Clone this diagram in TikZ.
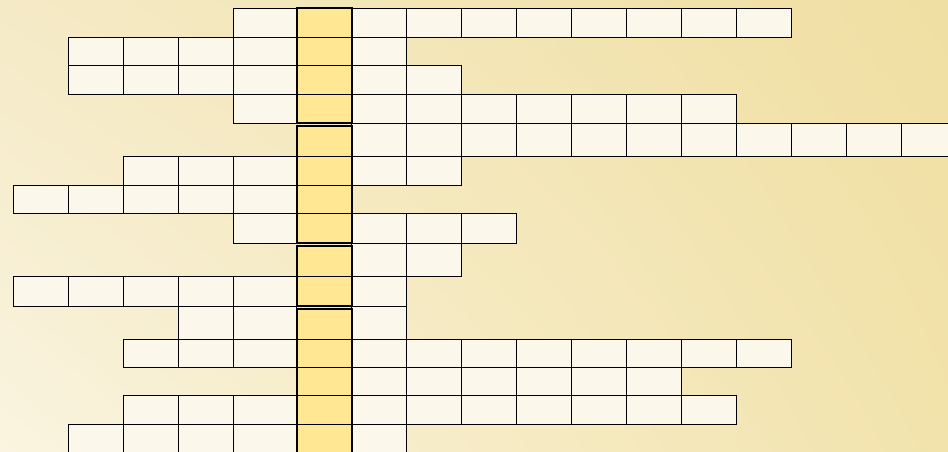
\documentclass[tikz,border=0pt]{standalone}
\usepackage{tikz}
\usetikzlibrary{shadings}
\definecolor{paper}{HTML}{FBF7EA}
\definecolor{gold}{HTML}{FFE794}
\definecolor{ink}{HTML}{000000}
\definecolor{bgA}{HTML}{F5EAC6}
\definecolor{bgB}{HTML}{F0DFA2}
\definecolor{bgC}{HTML}{FAF4E0}
\definecolor{bgD}{HTML}{F2E3AC}
\tikzset{
  cell/.style={
    draw=ink,
    fill=paper,
    line width=0.6pt,
    inner sep=0pt,
    outer sep=0pt,
    anchor=north west
  },
  keyword/.style={
    draw=ink,
    fill=gold,
    line width=1.1pt,
    inner sep=0pt,
    outer sep=0pt,
    anchor=north west,
    minimum width=55*0.02cm
  },
  rule/.style={
    draw=ink,
    line width=0.6pt
  }
}
% one answer row: #1 name, #2 top, #3 bottom, #4 first column, #5 last column
\newcommand{\wordrow}[5]{%
  \foreach \c in {#4,...,#5} {
    \ifnum\c=6 \else
      \pgfmathsetmacro{\cx}{\c<=4 ? 13.3+55*(\c-1) : (\c==5 ? 233.3 : 296.7+55*(\c-6))}
      \pgfmathsetmacro{\cw}{\c==5 ? 63.4 : 55}
      \node[cell, minimum width=\cw*0.02cm, minimum height=(#3-#2)*0.02cm]
        (#1c\c) at (\cx,#2) {};
    \fi
  }
}

\begin{document}
\begin{tikzpicture}[x=0.02cm,y=-0.02cm]

  % --- Background ---
  \useasboundingbox (0,0) rectangle (948,451);
  \clip (0,0) rectangle (948,451);
  \shade[upper left=bgA, upper right=bgB, lower left=bgC, lower right=bgD]
    (0,0) rectangle (948,451);

  % --- Answer rows ---
  \wordrow{r0}{8.3}{37.3}{5}{14}
  \wordrow{r1}{37.3}{65.7}{2}{7}
  \wordrow{r2}{65.7}{94.3}{2}{8}
  \wordrow{r3}{94.3}{123.3}{5}{13}
  \wordrow{r4}{123.3}{156.3}{6}{17}
  \wordrow{r5}{156.3}{185.3}{3}{8}
  \wordrow{r6}{185.3}{213.3}{1}{6}
  \wordrow{r7}{213.3}{243.3}{5}{9}
  \wordrow{r8}{243.3}{276.3}{6}{8}
  \wordrow{r9}{276.3}{306.3}{1}{7}
  \wordrow{r10}{306.3}{339.3}{4}{7}
  \wordrow{r11}{339.3}{367.3}{3}{14}
  \wordrow{r12}{367.3}{395.3}{6}{12}
  \wordrow{r13}{395.3}{424.3}{3}{13}
  \wordrow{r14}{424.3}{453.3}{2}{7}

  % --- Key column ---
  \node[keyword, minimum height=115*0.02cm] (kw1) at (296.7,8.3) {};
  \node[keyword, minimum height=117.3*0.02cm] (kw2) at (296.7,126) {};
  \node[keyword, minimum height=60.6*0.02cm] (kw3) at (296.7,245.7) {};
  \node[keyword, minimum height=145*0.02cm] (kw4) at (296.7,309) {};
  \foreach \y in {37.3,65.7,94.3,156.3,185.3,213.3,276.3,339.3,367.3,395.3,424.3}
    \draw[rule] (296.7,\y) -- (351.7,\y);
  \foreach \k in {kw1,kw2,kw3,kw4}
    \draw[draw=ink, line width=1.1pt] (\k.north west) rectangle (\k.south east);

\end{tikzpicture}
\end{document}
